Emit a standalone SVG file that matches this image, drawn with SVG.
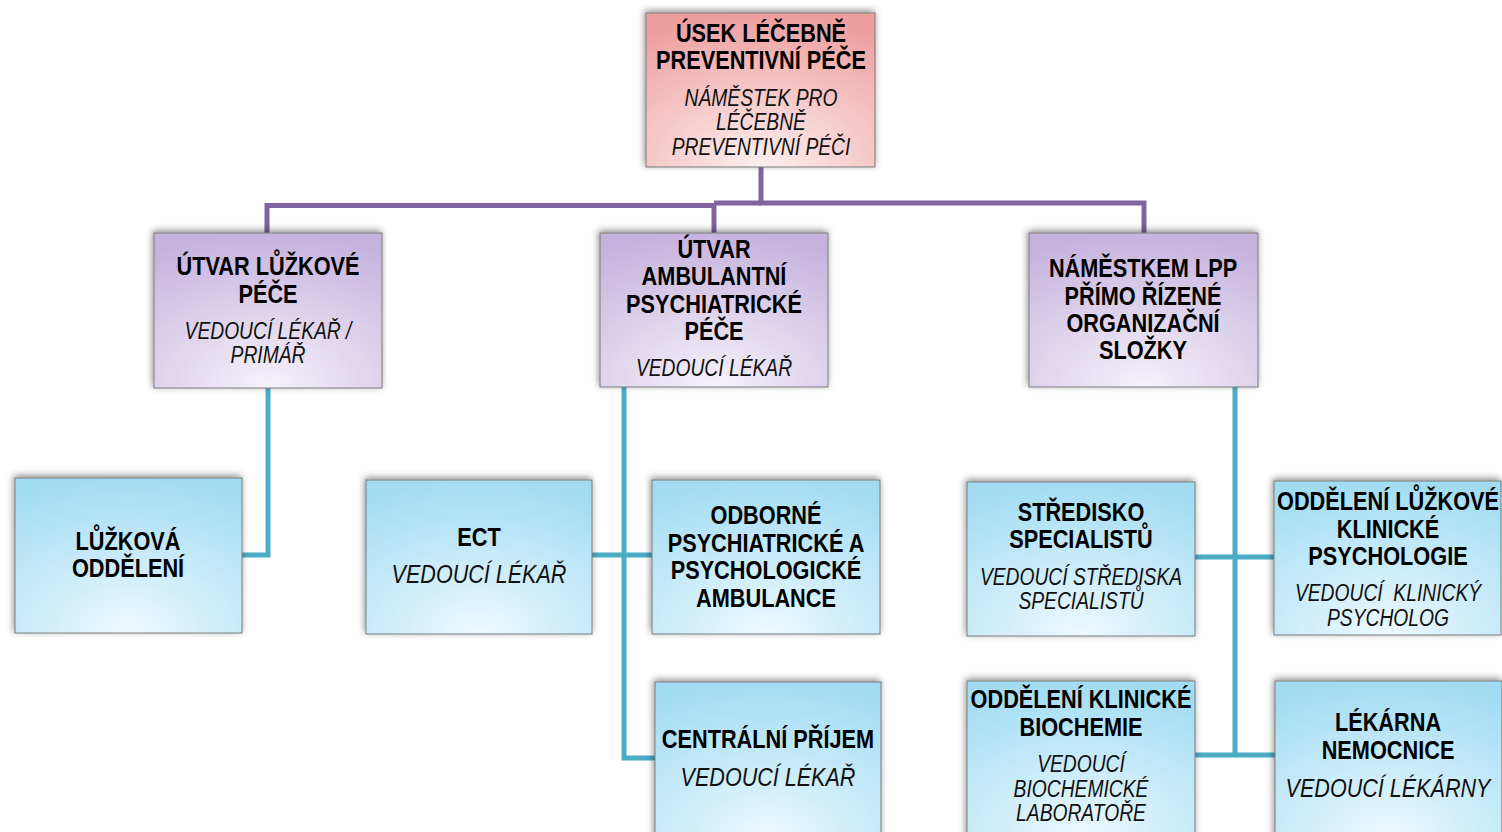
<svg xmlns="http://www.w3.org/2000/svg" width="1502" height="832" viewBox="0 0 1502 832">
<defs>
<radialGradient id="gPink" cx="0.5" cy="1" r="1">
<stop offset="0" stop-color="#FDF0F0"/><stop offset="1" stop-color="#EE9E9E"/>
</radialGradient>
<radialGradient id="gPurple" cx="0.5" cy="1" r="1">
<stop offset="0" stop-color="#F6F2FA"/><stop offset="1" stop-color="#C5B3DD"/>
</radialGradient>
<radialGradient id="gBlue" cx="0.5" cy="1" r="1">
<stop offset="0" stop-color="#EEF9FE"/><stop offset="1" stop-color="#A2DCF3"/>
</radialGradient>
<filter id="sh" x="-10%" y="-15%" width="120%" height="130%">
<feDropShadow dx="-1" dy="-2" stdDeviation="3.5" flood-color="#000" flood-opacity="0.45"/>
</filter>
<style>
.box{stroke:#7a7a7a;stroke-width:1;filter:url(#sh)}
.pink{fill:url(#gPink)}
.purple{fill:url(#gPurple)}
.blue{fill:url(#gBlue)}
text{font-family:"Liberation Sans",Arial,sans-serif;text-anchor:middle;fill:#000}
.b{font-weight:bold;font-size:26.5px}
.i{font-style:italic;font-size:23.5px;fill:#111}
.i2{font-style:italic;font-size:26.3px;fill:#111}
.pc{fill:none;stroke:#8064A2;stroke-width:5}
.bc{fill:none;stroke:#4BACC6;stroke-width:5}
</style>
</defs>
<rect width="1502" height="832" fill="#fff"/>
<g id="connectors">
<path class="pc" d="M761,167 V203 H1144 V233"/>
<path class="pc" d="M714,203 H761"/>
<path class="pc" d="M267,233 V205.5 H714 V233"/>
<path class="bc" d="M268,388 V555 H242"/>
<path class="bc" d="M624,387 V758 H656"/>
<path class="bc" d="M592,555 H652"/>
<path class="bc" d="M1235,387 V755"/>
<path class="bc" d="M1195,557 H1275"/>
<path class="bc" d="M1195,755 H1275"/>
</g>
<g id="n-usek"><rect class="box pink" x="646" y="13" width="229" height="154"/>
<g transform="translate(761 0) scale(0.82 1)">
<text class="b" x="0" y="42.5">ÚSEK LÉČEBNĚ</text>
<text class="b" x="0" y="69.5">PREVENTIVNÍ PÉČE</text>
<text class="i" x="0" y="106">NÁMĚSTEK PRO</text>
<text class="i" x="0" y="130">LÉČEBNĚ</text>
<text class="i" x="0" y="155">PREVENTIVNÍ PÉČI</text></g></g>
<g id="n-lozkove"><rect class="box purple" x="154" y="233" width="228" height="155"/>
<g transform="translate(268 0) scale(0.82 1)">
<text class="b" x="0" y="275.5">ÚTVAR LŮŽKOVÉ</text>
<text class="b" x="0" y="303.5">PÉČE</text>
<text class="i" x="0" y="339">VEDOUCÍ LÉKAŘ /</text>
<text class="i" x="0" y="363">PRIMÁŘ</text></g></g>
<g id="n-ambulantni"><rect class="box purple" x="600" y="233" width="228" height="154"/>
<g transform="translate(714 0) scale(0.82 1)">
<text class="b" x="0" y="258.5">ÚTVAR</text>
<text class="b" x="0" y="285.5">AMBULANTNÍ</text>
<text class="b" x="0" y="313.5">PSYCHIATRICKÉ</text>
<text class="b" x="0" y="340.5">PÉČE</text>
<text class="i" x="0" y="376">VEDOUCÍ LÉKAŘ</text></g></g>
<g id="n-namestkem"><rect class="box purple" x="1029" y="233" width="229" height="154"/>
<g transform="translate(1143 0) scale(0.82 1)">
<text class="b" x="0" y="277.5">NÁMĚSTKEM LPP</text>
<text class="b" x="0" y="305.5">PŘÍMO ŘÍZENÉ</text>
<text class="b" x="0" y="332.5">ORGANIZAČNÍ</text>
<text class="b" x="0" y="359.5">SLOŽKY</text></g></g>
<g id="n-lozkova-oddeleni"><rect class="box blue" x="15" y="478" width="227" height="155"/>
<g transform="translate(128 0) scale(0.82 1)">
<text class="b" x="0" y="550.5">LŮŽKOVÁ</text>
<text class="b" x="0" y="577.5">ODDĚLENÍ</text></g></g>
<g id="n-ect"><rect class="box blue" x="366" y="480" width="226" height="154"/>
<g transform="translate(479 0) scale(0.82 1)">
<text class="b" x="0" y="546.5">ECT</text>
<text class="i2" x="0" y="583.5">VEDOUCÍ LÉKAŘ</text></g></g>
<g id="n-odborne"><rect class="box blue" x="652" y="480" width="228" height="154"/>
<g transform="translate(766 0) scale(0.82 1)">
<text class="b" x="0" y="524.5">ODBORNÉ</text>
<text class="b" x="0" y="552.5">PSYCHIATRICKÉ A</text>
<text class="b" x="0" y="579.5">PSYCHOLOGICKÉ</text>
<text class="b" x="0" y="607.5">AMBULANCE</text></g></g>
<g id="n-centralni"><rect class="box blue" x="655" y="682" width="226" height="160"/>
<g transform="translate(768 0) scale(0.82 1)">
<text class="b" x="0" y="748.5">CENTRÁLNÍ PŘÍJEM</text>
<text class="i2" x="0" y="786">VEDOUCÍ LÉKAŘ</text></g></g>
<g id="n-stredisko"><rect class="box blue" x="967" y="482" width="228" height="154"/>
<g transform="translate(1081 0) scale(0.82 1)">
<text class="b" x="0" y="521.5">STŘEDISKO</text>
<text class="b" x="0" y="548.5">SPECIALISTŮ</text>
<text class="i" x="0" y="585">VEDOUCÍ STŘEDISKA</text>
<text class="i" x="0" y="609">SPECIALISTŮ</text></g></g>
<g id="n-psychologie"><rect class="box blue" x="1274" y="481" width="227" height="154"/>
<g transform="translate(1388 0) scale(0.82 1)">
<text class="b" x="0" y="510.5">ODDĚLENÍ LŮŽKOVÉ</text>
<text class="b" x="0" y="538.5">KLINICKÉ</text>
<text class="b" x="0" y="565.5">PSYCHOLOGIE</text>
<text class="i" x="0" y="601" xml:space="preserve">VEDOUCÍ  KLINICKÝ</text>
<text class="i" x="0" y="626">PSYCHOLOG</text></g></g>
<g id="n-biochemie"><rect class="box blue" x="967" y="681" width="228" height="160"/>
<g transform="translate(1081 0) scale(0.82 1)">
<text class="b" x="0" y="708.5">ODDĚLENÍ KLINICKÉ</text>
<text class="b" x="0" y="736.5">BIOCHEMIE</text>
<text class="i" x="0" y="772">VEDOUCÍ</text>
<text class="i" x="0" y="797">BIOCHEMICKÉ</text>
<text class="i" x="0" y="821">LABORATOŘE</text></g></g>
<g id="n-lekarna"><rect class="box blue" x="1275" y="681" width="227" height="160"/>
<g transform="translate(1388 0) scale(0.82 1)">
<text class="b" x="0" y="731.5">LÉKÁRNA</text>
<text class="b" x="0" y="759.5">NEMOCNICE</text>
<text class="i2" x="0" y="797">VEDOUCÍ LÉKÁRNY</text></g></g>
</svg>
